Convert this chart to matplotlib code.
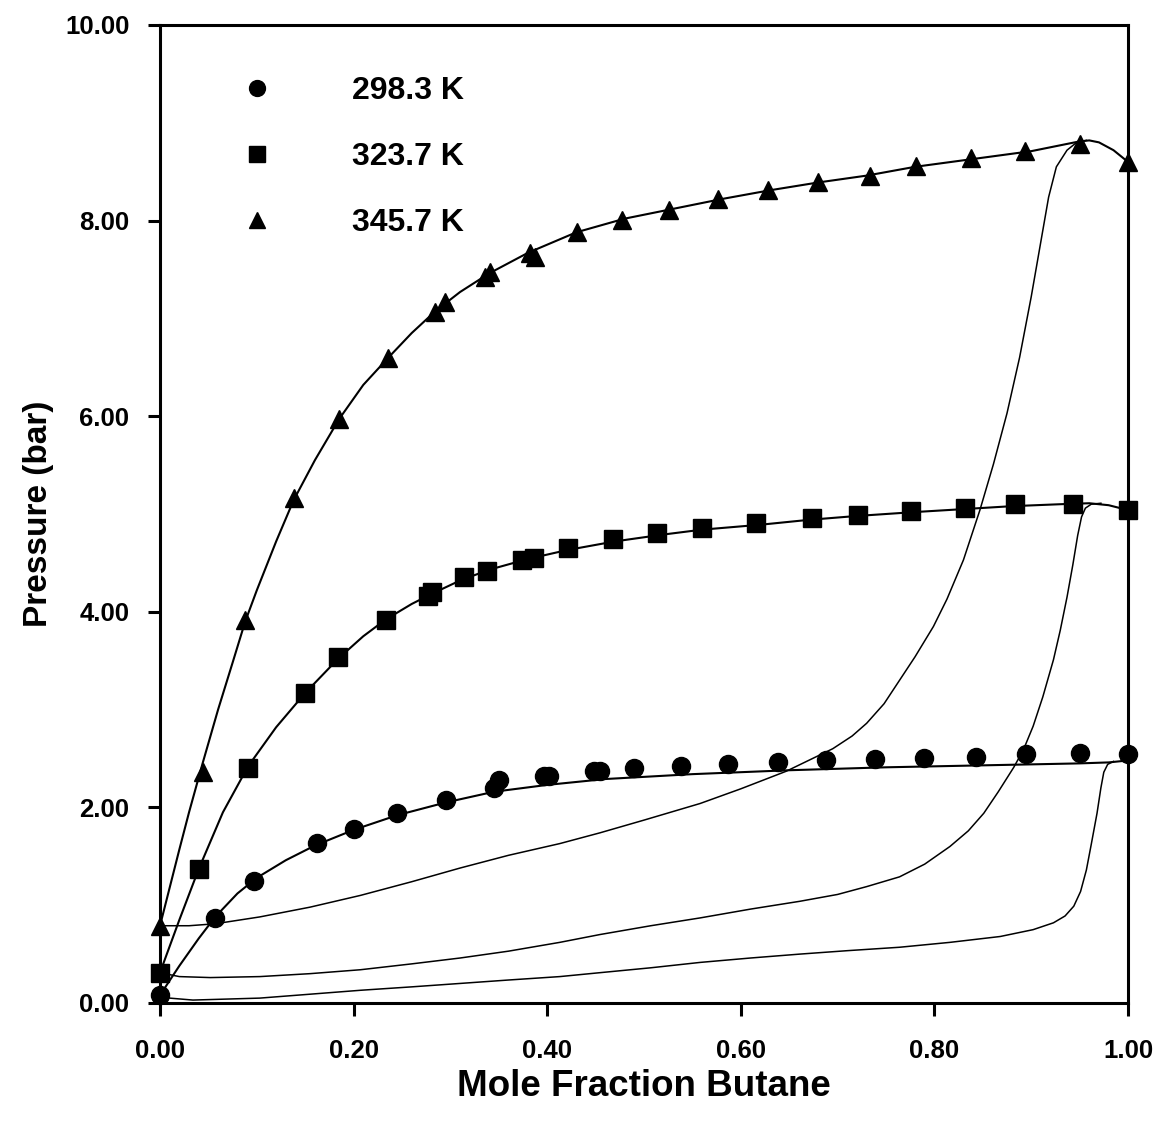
import matplotlib
matplotlib.use("Agg")
import matplotlib.pyplot as plt
from matplotlib.ticker import FormatStrFormatter

plt.rcParams['font.family'] = ['Liberation Sans', 'DejaVu Sans']
plt.rcParams['font.weight'] = 'bold'

# ---- experimental data (mole fraction butane, pressure bar) ----
x_298 = [0.0, 0.057, 0.097, 0.162, 0.200, 0.245, 0.295, 0.345, 0.350, 0.397, 0.402,
         0.448, 0.455, 0.490, 0.538, 0.587, 0.638, 0.688, 0.739, 0.789, 0.843, 0.895,
         0.950, 1.0]
p_298 = [0.08, 0.87, 1.25, 1.64, 1.78, 1.94, 2.08, 2.20, 2.28, 2.32, 2.32,
         2.37, 2.37, 2.40, 2.42, 2.44, 2.46, 2.48, 2.50, 2.51, 2.52, 2.55,
         2.56, 2.55]

x_323 = [0.0, 0.040, 0.091, 0.150, 0.184, 0.233, 0.277, 0.281, 0.314, 0.338, 0.374,
         0.386, 0.421, 0.468, 0.513, 0.560, 0.616, 0.674, 0.721, 0.776, 0.832, 0.883,
         0.943, 1.0]
p_323 = [0.31, 1.37, 2.40, 3.17, 3.54, 3.92, 4.16, 4.20, 4.36, 4.42, 4.53,
         4.55, 4.65, 4.74, 4.81, 4.86, 4.91, 4.96, 4.99, 5.03, 5.06, 5.10,
         5.10, 5.04]

x_345 = [0.0, 0.044, 0.088, 0.138, 0.185, 0.236, 0.284, 0.294, 0.336, 0.341, 0.382,
         0.387, 0.431, 0.477, 0.526, 0.576, 0.628, 0.680, 0.733, 0.781, 0.838, 0.894,
         0.950, 1.0]
p_345 = [0.79, 2.36, 3.92, 5.16, 5.97, 6.60, 7.07, 7.17, 7.42, 7.47, 7.67,
         7.63, 7.88, 8.01, 8.11, 8.22, 8.31, 8.39, 8.46, 8.56, 8.64, 8.71,
         8.78, 8.60]

# ---- model curves ----
bub_x_298 = [0.0, 0.02, 0.04, 0.057, 0.08, 0.10, 0.13, 0.16, 0.20, 0.245, 0.295,
             0.345, 0.40, 0.46, 0.55, 0.65, 0.75, 0.85, 0.95, 0.98, 1.0]
bub_p_298 = [0.08, 0.38, 0.66, 0.88, 1.12, 1.28, 1.46, 1.61, 1.77, 1.92, 2.05,
             2.16, 2.23, 2.29, 2.34, 2.38, 2.41, 2.43, 2.45, 2.46, 2.48]

dew_x_298 = [0.0, 0.01, 0.034, 0.103, 0.155, 0.207, 0.26, 0.31, 0.36, 0.413, 0.4545,
             0.507, 0.558, 0.61, 0.661, 0.71, 0.764, 0.816, 0.868, 0.902, 0.923,
             0.935, 0.944, 0.951, 0.957, 0.962, 0.968, 0.972, 0.975, 0.979, 0.985]
dew_p_298 = [0.08, 0.05, 0.03, 0.05, 0.09, 0.13, 0.165, 0.20, 0.235, 0.27, 0.31,
             0.36, 0.415, 0.46, 0.50, 0.535, 0.57, 0.62, 0.68, 0.75, 0.82,
             0.89, 0.99, 1.14, 1.36, 1.62, 1.94, 2.20, 2.36, 2.44, 2.47]

bub_x_323 = [0.0, 0.02, 0.04, 0.065, 0.091, 0.12, 0.15, 0.184, 0.21, 0.233, 0.26,
             0.28, 0.31, 0.34, 0.38, 0.42, 0.47, 0.52, 0.56, 0.62, 0.67, 0.72,
             0.78, 0.83, 0.88, 0.93, 0.96, 0.98, 1.0]
bub_p_323 = [0.31, 0.85, 1.37, 1.95, 2.42, 2.82, 3.17, 3.52, 3.75, 3.92, 4.08,
             4.18, 4.32, 4.43, 4.54, 4.63, 4.72, 4.79, 4.84, 4.89, 4.94, 4.98,
             5.02, 5.05, 5.08, 5.10, 5.11, 5.09, 5.04]

dew_x_323 = [0.0, 0.02, 0.052, 0.103, 0.155, 0.207, 0.26, 0.31, 0.36, 0.413, 0.4545,
             0.507, 0.558, 0.61, 0.661, 0.70, 0.730, 0.764, 0.790, 0.816, 0.835,
             0.851, 0.866, 0.882, 0.892, 0.902, 0.912, 0.923, 0.930, 0.937, 0.943,
             0.948, 0.952, 0.956, 0.962, 0.972]
dew_p_323 = [0.31, 0.27, 0.26, 0.27, 0.30, 0.34, 0.40, 0.46, 0.53, 0.62, 0.70,
             0.79, 0.87, 0.96, 1.04, 1.11, 1.19, 1.29, 1.42, 1.60, 1.76,
             1.94, 2.16, 2.41, 2.59, 2.83, 3.13, 3.51, 3.81, 4.15, 4.48,
             4.78, 4.97, 5.06, 5.10, 5.11]

bub_x_345 = [0.0, 0.01, 0.02, 0.03, 0.044, 0.06, 0.075, 0.088, 0.10, 0.12, 0.138,
             0.16, 0.185, 0.21, 0.236, 0.26, 0.284, 0.31, 0.34, 0.38, 0.43, 0.48,
             0.53, 0.58, 0.63, 0.68, 0.73, 0.78, 0.84, 0.90, 0.93, 0.95, 0.96,
             0.97, 0.985, 1.0]
bub_p_345 = [0.79, 1.18, 1.57, 1.95, 2.45, 3.00, 3.48, 3.90, 4.22, 4.72, 5.14,
             5.55, 5.97, 6.32, 6.60, 6.85, 7.07, 7.27, 7.46, 7.67, 7.88, 8.02,
             8.12, 8.22, 8.31, 8.39, 8.46, 8.55, 8.63, 8.71, 8.77, 8.81, 8.82,
             8.80, 8.72, 8.60]

dew_x_345 = [0.0, 0.03, 0.057, 0.103, 0.155, 0.207, 0.26, 0.31, 0.36, 0.413, 0.4545,
             0.50, 0.558, 0.60, 0.647, 0.695, 0.715, 0.730, 0.748, 0.764, 0.78,
             0.799, 0.813, 0.830, 0.847, 0.861, 0.875, 0.888, 0.900, 0.909, 0.918,
             0.926, 0.937, 0.947, 0.957]
dew_p_345 = [0.79, 0.79, 0.81, 0.88, 0.98, 1.10, 1.24, 1.38, 1.51, 1.63, 1.74,
             1.87, 2.04, 2.19, 2.37, 2.60, 2.73, 2.86, 3.06, 3.30, 3.54,
             3.85, 4.13, 4.53, 5.04, 5.51, 6.03, 6.60, 7.22, 7.73, 8.24,
             8.55, 8.72, 8.80, 8.82]

labels = ['298.3 K', '323.7 K', '345.7 K']
xticks = [0.0, 0.2, 0.4, 0.6, 0.8, 1.0]
yticks = [0.0, 2.0, 4.0, 6.0, 8.0, 10.0]

W, H = 1160, 1124
fig = plt.figure(figsize=(W / 100, H / 100), dpi=100)
ax = fig.add_axes([160 / W, (H - 1003) / H, 968 / W, 978 / H])

# model curves
for bx, bp in [(bub_x_298, bub_p_298), (bub_x_323, bub_p_323), (bub_x_345, bub_p_345)]:
    ax.plot(bx, bp, color='black', lw=1.5, zorder=2, clip_on=False,
            solid_joinstyle='round')
for dx, dp in [(dew_x_298, dew_p_298), (dew_x_323, dew_p_323), (dew_x_345, dew_p_345)]:
    ax.plot(dx, dp, color='black', lw=1.1, zorder=2, clip_on=False,
            solid_joinstyle='round')

# data points
h1, = ax.plot(x_298, p_298, 'o', color='black', ms=13, ls='none', zorder=3,
              clip_on=False, label=labels[0])
h2, = ax.plot(x_323, p_323, 's', color='black', ms=13.3, ls='none', zorder=3,
              clip_on=False, label=labels[1])
h3, = ax.plot(x_345, p_345, '^', color='black', ms=13, ls='none', zorder=3,
              clip_on=False, label=labels[2])

ax.set_xlim(0, 1)
ax.set_ylim(0, 10)
ax.set_xticks(xticks)
ax.set_yticks(yticks)
ax.xaxis.set_major_formatter(FormatStrFormatter('%.2f'))
ax.yaxis.set_major_formatter(FormatStrFormatter('%.2f'))
ax.tick_params(axis='both', direction='out', length=9, width=2.2,
               labelsize=18.5, colors='black')
ax.tick_params(axis='y', pad=13)
ax.tick_params(axis='x', pad=17)
for t in ax.get_xticklabels() + ax.get_yticklabels():
    t.set_fontweight('bold')
for s in ax.spines.values():
    s.set_linewidth(2.2)
    s.set_color('black')

ax.set_xlabel('Mole Fraction Butane', fontsize=26.5, fontweight='bold', labelpad=4)
ax.set_ylabel('Pressure (bar)', fontsize=24, fontweight='bold', labelpad=8)

leg = ax.legend(handles=[h1, h2, h3], loc='upper left',
                bbox_to_anchor=(0.0837, 0.948), frameon=False, fontsize=23,
                handlelength=1.0, handletextpad=2.48, labelspacing=1.13,
                borderpad=0.0, borderaxespad=0.0, markerscale=0.88)
for t in leg.get_texts():
    t.set_fontweight('bold')

fig.savefig('out.png', dpi=100)
